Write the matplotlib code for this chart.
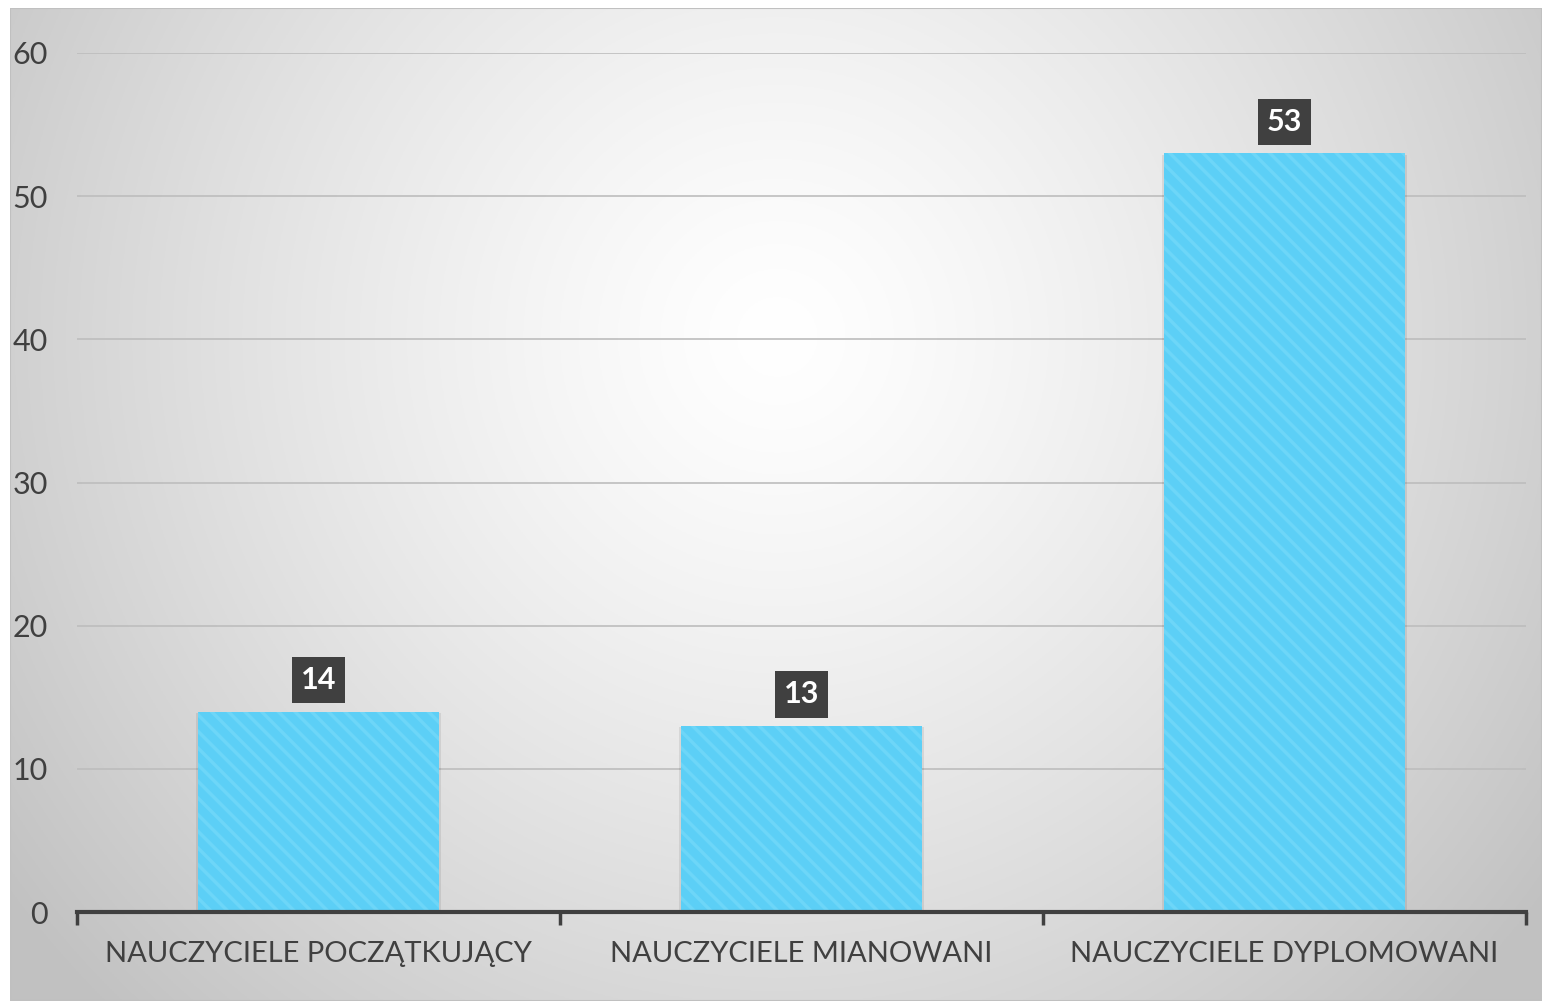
import numpy as np
import matplotlib.pyplot as plt
from matplotlib.patches import Rectangle

# dane
categories = ["NAUCZYCIELE POCZĄTKUJĄCY", "NAUCZYCIELE MIANOWANI", "NAUCZYCIELE DYPLOMOWANI"]
values = [14, 13, 53]
yticks = [0, 10, 20, 30, 40, 50, 60]

plt.rcParams["font.family"] = ["Lato", "DejaVu Sans"]

fig = plt.figure(figsize=(15.42, 10.01), dpi=100)
fig.patch.set_facecolor("white")

# tło z gradientem radialnym
bg = fig.add_axes([10 / 1542, 0, 1532 / 1542, 993 / 1001])
bg.set_axis_off()
ny, nx = 400, 600
yy, xx = np.mgrid[0:ny, 0:nx]
cx, cy = nx * 0.50, ny * 0.33
r = np.sqrt(((xx - cx) / (nx * 0.62)) ** 2 + ((yy - cy) / (ny * 0.95)) ** 2)
shade = 1.0 - 0.24 * np.clip(r, 0, 1) ** 1.3
img = np.dstack([shade, shade, shade])
bg.imshow(img, aspect="auto", extent=[0, 1, 0, 1], origin="upper")
bg.set_xlim(0, 1)
bg.set_ylim(0, 1)
bg.add_patch(Rectangle((0, 0), 1, 1, fill=False, edgecolor="#c0c0c0", linewidth=1.5))

ax = fig.add_axes([77 / 1542, 89 / 1001, (1526 - 77) / 1542, (912 - 53) / 1001])
ax.patch.set_alpha(0)

x = np.arange(len(categories))
plt.rcParams["hatch.color"] = "#6dd6f8"
plt.rcParams["hatch.linewidth"] = 2.5
bars = ax.bar(x, values, width=0.5, color="#5ccff6", edgecolor="#6dd6f8",
              linewidth=0, hatch="\\\\", zorder=3)

# cień pod słupkami
for xi, v in zip(x, values):
    ax.add_patch(Rectangle((xi - 0.25 - 0.004, 0), 0.508, v - 0.1, facecolor="#000000",
                           alpha=0.08, zorder=2, linewidth=0))

ax.set_xlim(-0.5, 2.5)
ax.set_ylim(0, 60)
ax.set_yticks(yticks)
ax.set_yticklabels([str(t) for t in yticks], fontsize=22, color="#404040")
ax.tick_params(axis="y", length=0, pad=21)
ax.yaxis.grid(True, color="#bdbdbd", linewidth=1.2, zorder=1)
ax.set_axisbelow(True)

# oś X z podziałkami na granicach kategorii
ax.set_xticks([-0.5, 0.5, 1.5, 2.5])
ax.set_xticklabels([])
ax.set_xticks(x, minor=True)
ax.set_xticklabels(categories, minor=True, fontsize=21, color="#404040")
ax.tick_params(axis="x", which="major", length=9, width=2.5, color="#404040", direction="out")
ax.tick_params(axis="x", which="minor", length=0, pad=21)

for s in ["top", "right", "left"]:
    ax.spines[s].set_visible(False)
ax.spines["bottom"].set_color("#404040")
ax.spines["bottom"].set_linewidth(3)
ax.spines["bottom"].set_zorder(5)

# etykiety danych
for xi, v in zip(x, values):
    ax.text(xi, v + 2.2, str(v), ha="center", va="center", fontsize=22,
            fontweight="bold", color="white", zorder=6,
            bbox=dict(boxstyle="square,pad=0.3", facecolor="#404040", edgecolor="none"))

fig.savefig("out.png", dpi=100)
